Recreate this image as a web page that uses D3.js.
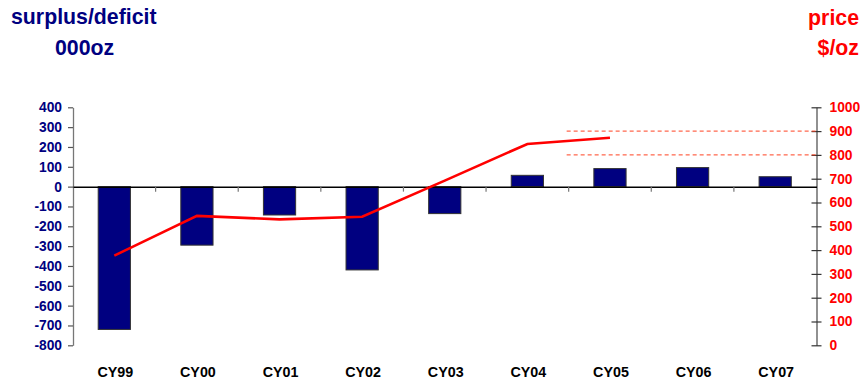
<!DOCTYPE html>
<html>
<head>
<meta charset="utf-8">
<script src="https://cdn.jsdelivr.net/npm/d3@7"></script>
<style>
  html, body { margin: 0; padding: 0; background: #fff; }
  svg { display: block; font-family: "Liberation Sans", Arial, sans-serif; }
</style>
</head>
<body>
<svg id="chart" width="867" height="381"></svg>
<script>
// ---- data ----
const categories = ["CY99", "CY00", "CY01", "CY02", "CY03", "CY04", "CY05", "CY06", "CY07"];
const surplusDeficit = [-720, -295, -143, -420, -136, 57, 91, 96, 50];   // 000oz
const priceCategories = ["CY99", "CY00", "CY01", "CY02", "CY03", "CY04", "CY05"];
const price = [377, 544, 529, 540, 692, 846, 872];                      // $/oz
const forecastStart = "CY05";
const forecastRange = [800, 900];                                         // $/oz
const leftTicks = [400, 300, 200, 100, 0, -100, -200, -300, -400, -500, -600, -700, -800];
const rightTicks = [1000, 900, 800, 700, 600, 500, 400, 300, 200, 100, 0];

// ---- layout ----
const svg = d3.select("#chart");
const xL = 73, xR = 816.5, yTop = 107.3, yBot = 345.3;
const navy = "#000080", red = "#ff0000";
const plain = d => String(d);

const x = d3.scaleBand().domain(categories).range([xL, xR]).paddingInner(0.61).paddingOuter(0.305);
const xBand = d3.scaleBand().domain(categories).range([xL, xR]).padding(0);
const yL = d3.scaleLinear().domain([-800, 400]).range([yBot, yTop]);
const yR = d3.scaleLinear().domain([0, 1000]).range([yBot, yTop]);

// titles
svg.append("text").attr("x", 11).attr("y", 24).attr("fill", navy)
  .attr("font-size", 21.3).attr("font-weight", "bold").text("surplus/deficit");
svg.append("text").attr("x", 55).attr("y", 55).attr("fill", navy)
  .attr("font-size", 21.3).attr("font-weight", "bold").text("000oz");
svg.append("text").attr("x", 859).attr("y", 25).attr("fill", red).attr("text-anchor", "end")
  .attr("font-size", 21.3).attr("font-weight", "bold").text("price");
svg.append("text").attr("x", 859).attr("y", 55).attr("fill", red).attr("text-anchor", "end")
  .attr("font-size", 21.3).attr("font-weight", "bold").text("$/oz");

// left axis
const leftAxis = svg.append("g").attr("transform", `translate(${xL},0)`)
  .call(d3.axisLeft(yL).tickValues(leftTicks).tickFormat(plain).tickSize(5).tickPadding(6).tickSizeOuter(0));
leftAxis.select(".domain").attr("stroke", "#777").attr("stroke-width", 1.3);
leftAxis.selectAll(".tick line").attr("stroke", "#555").attr("stroke-width", 1.2);
leftAxis.selectAll(".tick text").attr("fill", navy).attr("font-size", 13.8)
  .attr("font-weight", "bold").attr("font-family", "Liberation Sans, Arial, sans-serif");

// right axis (ticks cross the line)
const rightAxis = svg.append("g").attr("transform", `translate(${xR},0)`)
  .call(d3.axisRight(yR).tickValues(rightTicks).tickFormat(plain).tickSize(5).tickPadding(8).tickSizeOuter(0));
rightAxis.select(".domain").attr("stroke", "#555").attr("stroke-width", 1.3);
rightAxis.selectAll(".tick line").attr("x1", -5).attr("stroke", "#333").attr("stroke-width", 1.2);
rightAxis.selectAll(".tick text").attr("fill", red).attr("font-size", 13.8)
  .attr("font-weight", "bold").attr("font-family", "Liberation Sans, Arial, sans-serif");

// bars
svg.append("g").selectAll("rect").data(categories).join("rect")
  .attr("x", d => x(d))
  .attr("width", x.bandwidth())
  .attr("y", (d, i) => Math.min(yL(surplusDeficit[i]), yL(0)))
  .attr("height", (d, i) => Math.abs(yL(surplusDeficit[i]) - yL(0)))
  .attr("fill", navy).attr("stroke", "#333").attr("stroke-width", 1);

// zero line with category ticks
const xAxis = svg.append("g").attr("transform", `translate(0,${yL(0)})`)
  .call(d3.axisBottom(xBand).tickValues([]).tickSizeOuter(0));
xAxis.select(".domain").attr("stroke", "#000").attr("stroke-width", 1.5);
svg.append("g").selectAll("line").data(categories.slice(1)).join("line")
  .attr("x1", d => xBand(d)).attr("x2", d => xBand(d))
  .attr("y1", yL(0)).attr("y2", yL(0) + 5)
  .attr("stroke", "#777").attr("stroke-width", 1.2);

// category labels
svg.append("g").selectAll("text").data(categories).join("text")
  .attr("x", d => xBand(d) + xBand.bandwidth() / 2 + 1)
  .attr("y", 376.5)
  .attr("text-anchor", "middle")
  .attr("font-size", 14.3).attr("font-weight", "bold").attr("fill", "#000")
  .text(d => d);

// forecast range dashed lines
svg.append("g").selectAll("line").data(forecastRange).join("line")
  .attr("x1", xBand(forecastStart) - 2).attr("x2", xR)
  .attr("y1", d => yR(d)).attr("y2", d => yR(d))
  .attr("stroke", "#ff4020").attr("stroke-width", 1).attr("stroke-dasharray", "4,3");

// price line
const line = d3.line()
  .x((d, i) => xBand(priceCategories[i]) + xBand.bandwidth() / 2)
  .y(d => yR(d));
svg.append("path").datum(price).attr("d", line)
  .attr("fill", "none").attr("stroke", red).attr("stroke-width", 2.6);
</script>
</body>
</html>
